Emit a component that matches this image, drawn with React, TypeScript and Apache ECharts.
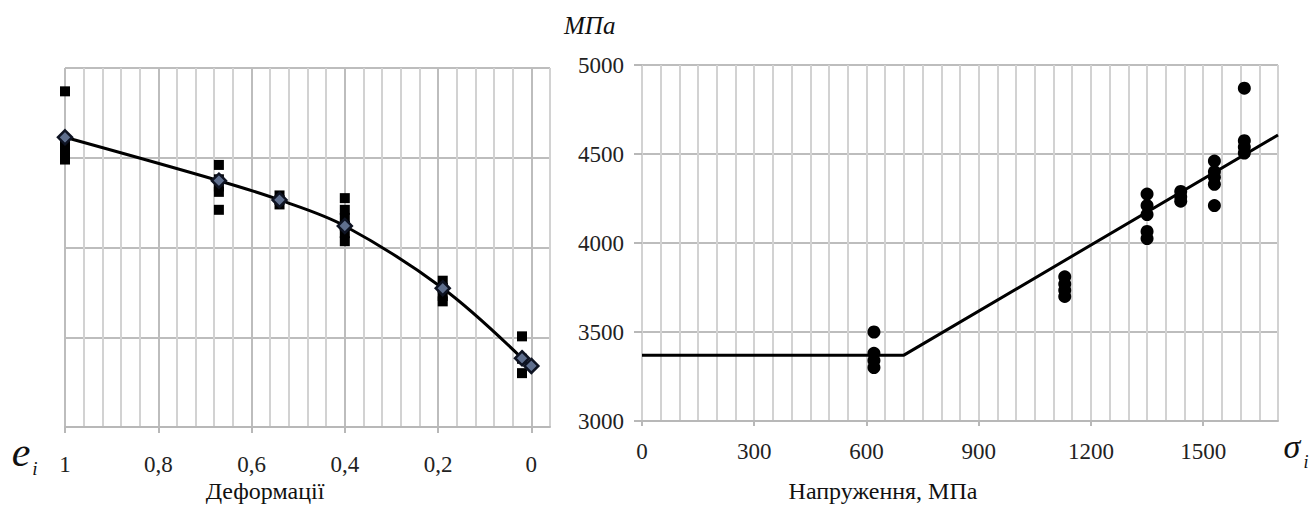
import React, { useEffect, useRef } from "react";
import * as echarts from "echarts";

// ---- Left chart data (deformations e_i) ----
const leftGroupsE = [1, 0.67, 0.54, 0.4, 0.19, 0.02];
const leftSquares = [
  [4870, 4600, 4550, 4520, 4490],
  [4460, 4380, 4340, 4310, 4210],
  [4290, 4265, 4240],
  [4275, 4210, 4165, 4120, 4080, 4035],
  [3815, 3775, 3730, 3700],
  [3505, 3380, 3300],
];
const leftMeanE = [1, 0.67, 0.54, 0.4, 0.19, 0.02];
const leftMeanV = [4614, 4372, 4265, 4120, 3773, 3383];
const leftExtraE = [0];
const leftExtraV = [3340];
const leftTickLabels = [1, 0.8, 0.6, 0.4, 0.2, 0];

// ---- Right chart data (stress sigma_i, MPa) ----
const rightGroupsS = [620, 1130, 1350, 1440, 1530, 1610];
const rightDots = [
  [3500, 3380, 3340, 3300],
  [3810, 3770, 3735, 3700],
  [4275, 4210, 4160, 4065, 4025],
  [4290, 4260, 4235],
  [4460, 4400, 4370, 4330, 4210],
  [4870, 4575, 4540, 4505],
];
const fitS = [0, 700, 1700];
const fitV = [3370, 3370, 4607];
const rightTickLabels = [0, 300, 600, 900, 1200, 1500];

const SERIF = "Liberation Serif, serif";

export default function App() {
  const ref = useRef<HTMLDivElement>(null);
  useEffect(() => {
    if (!ref.current) return;
    const chart = echarts.init(ref.current, null, { renderer: "svg" });

    const leftSq: number[][] = [];
    leftGroupsE.forEach((e, i) => leftSquares[i].forEach((v) => leftSq.push([e, v])));
    const rightPts: number[][] = [];
    rightGroupsS.forEach((s, i) => rightDots[i].forEach((v) => rightPts.push([s, v])));
    const meanLine = leftMeanE.map((e, i) => [e, leftMeanV[i]]);
    const diamonds = meanLine.concat(leftExtraE.map((e, i) => [e, leftExtraV[i]]));
    const fitLine = fitS.map((s, i) => [s, fitV[i]]);

    const isLeftLabel = (v: number) => leftTickLabels.some((t) => Math.abs(t - v) < 1e-6);
    const isRightLabel = (v: number) => rightTickLabels.some((t) => Math.abs(t - v) < 1e-6);

    const minor = "#d2d2d2";
    const major = "#bdbdbd";
    const txt = (text: string, x: number, y: number, size: number, italic: boolean, align = "center") => ({
      type: "text",
      x,
      y,
      style: {
        text,
        fontSize: size,
        fontFamily: SERIF,
        fontStyle: italic ? "italic" : "normal",
        fill: "#111",
        textAlign: align,
        textVerticalAlign: "middle",
        align,
        verticalAlign: "middle",
      },
    });

    chart.setOption({
      animation: false,
      backgroundColor: "#ffffff",
      grid: [
        { left: 65, top: 68, width: 485, height: 359 },
        { left: 642, top: 65, width: 636, height: 356 },
      ],
      xAxis: [
        {
          gridIndex: 0,
          type: "value",
          inverse: true,
          min: -0.04,
          max: 1,
          interval: 0.04,
          axisLine: { show: true, lineStyle: { color: "#b8b8b8", width: 2 } },
          axisTick: { show: false },
          axisLabel: {
            margin: 26,
            fontFamily: SERIF,
            fontSize: 23,
            color: "#222",
            formatter: (v: number) => {
              const r = Math.round(v * 100) / 100;
              if (!isLeftLabel(r)) return "";
              return String(r).replace(".", ",");
            },
          },
          splitLine: {
            show: true,
            lineStyle: { color: [minor, major, minor, minor, minor], width: 2 },
          },
        },
        {
          gridIndex: 0,
          type: "value",
          inverse: true,
          min: -0.04,
          max: 1,
          position: "bottom",
          axisLine: { show: false },
          axisLabel: { show: false },
          splitLine: { show: false },
          axisTick: {
            show: true,
            length: 6,
            customValues: leftTickLabels,
            lineStyle: { color: "#b8b8b8", width: 2 },
          },
        },
        {
          gridIndex: 1,
          type: "value",
          min: 0,
          max: 1700,
          interval: 50,
          axisLine: { show: true, lineStyle: { color: "#b8b8b8", width: 2 } },
          axisTick: { show: false },
          axisLabel: {
            margin: 19,
            fontFamily: SERIF,
            fontSize: 23,
            color: "#222",
            formatter: (v: number) => (isRightLabel(Math.round(v)) ? String(Math.round(v)) : ""),
          },
          splitLine: { show: true, lineStyle: { color: minor, width: 2 } },
        },
        {
          gridIndex: 1,
          type: "value",
          min: 0,
          max: 1700,
          position: "bottom",
          axisLine: { show: false },
          axisLabel: { show: false },
          splitLine: { show: false },
          axisTick: {
            show: true,
            length: 5,
            customValues: rightTickLabels,
            lineStyle: { color: "#b8b8b8", width: 2 },
          },
        },
      ],
      yAxis: [
        {
          gridIndex: 0,
          type: "value",
          min: 3000,
          max: 5000,
          interval: 500,
          axisLine: { show: false },
          axisTick: { show: false },
          axisLabel: { show: false },
          splitLine: { show: true, lineStyle: { color: major, width: 2 } },
        },
        {
          gridIndex: 1,
          type: "value",
          min: 3000,
          max: 5000,
          interval: 500,
          axisLine: { show: false },
          axisTick: { show: true, length: 8, lineStyle: { color: "#b8b8b8", width: 2 } },
          axisLabel: {
            margin: 18,
            fontFamily: SERIF,
            fontSize: 23,
            color: "#222",
            formatter: (v: number) => String(v),
          },
          splitLine: { show: true, lineStyle: { color: major, width: 2 } },
        },
      ],
      series: [
        {
          type: "scatter",
          xAxisIndex: 0,
          yAxisIndex: 0,
          data: leftSq,
          symbol: "rect",
          symbolSize: 10,
          itemStyle: { color: "#000", opacity: 1 },
          z: 3,
        },
        {
          type: "line",
          xAxisIndex: 0,
          yAxisIndex: 0,
          data: meanLine,
          smooth: 0.35,
          showSymbol: false,
          lineStyle: { color: "#000", width: 3 },
          z: 4,
        },
        {
          type: "scatter",
          xAxisIndex: 0,
          yAxisIndex: 0,
          data: diamonds,
          symbol: "diamond",
          symbolSize: 14,
          itemStyle: { color: "#5f6f8e", borderColor: "#0e1322", borderWidth: 2.5, opacity: 1 },
          z: 5,
        },
        {
          type: "scatter",
          xAxisIndex: 2,
          yAxisIndex: 1,
          data: rightPts,
          symbol: "circle",
          symbolSize: 13,
          itemStyle: { color: "#000", opacity: 1 },
          z: 3,
        },
        {
          type: "line",
          xAxisIndex: 2,
          yAxisIndex: 1,
          data: fitLine,
          showSymbol: false,
          lineStyle: { color: "#000", width: 3 },
          z: 4,
        },
      ],
      graphic: [
        txt("e", 21, 452, 42, true),
        txt("i", 35, 468, 19, true),
        txt("σ", 1292, 446, 34, true),
        txt("i", 1306, 462, 18, true),
        txt("МПа", 564, 25, 25, true, "left"),
        txt("Деформації", 265, 491, 24, false),
        txt("Напруження, МПа", 883, 491, 24, false),
      ],
    });
    return () => chart.dispose();
  }, []);

  return (
    <div
      ref={ref}
      style={{ position: "fixed", left: 0, top: 0, width: 1311, height: 508, background: "#fff" }}
    />
  );
}
